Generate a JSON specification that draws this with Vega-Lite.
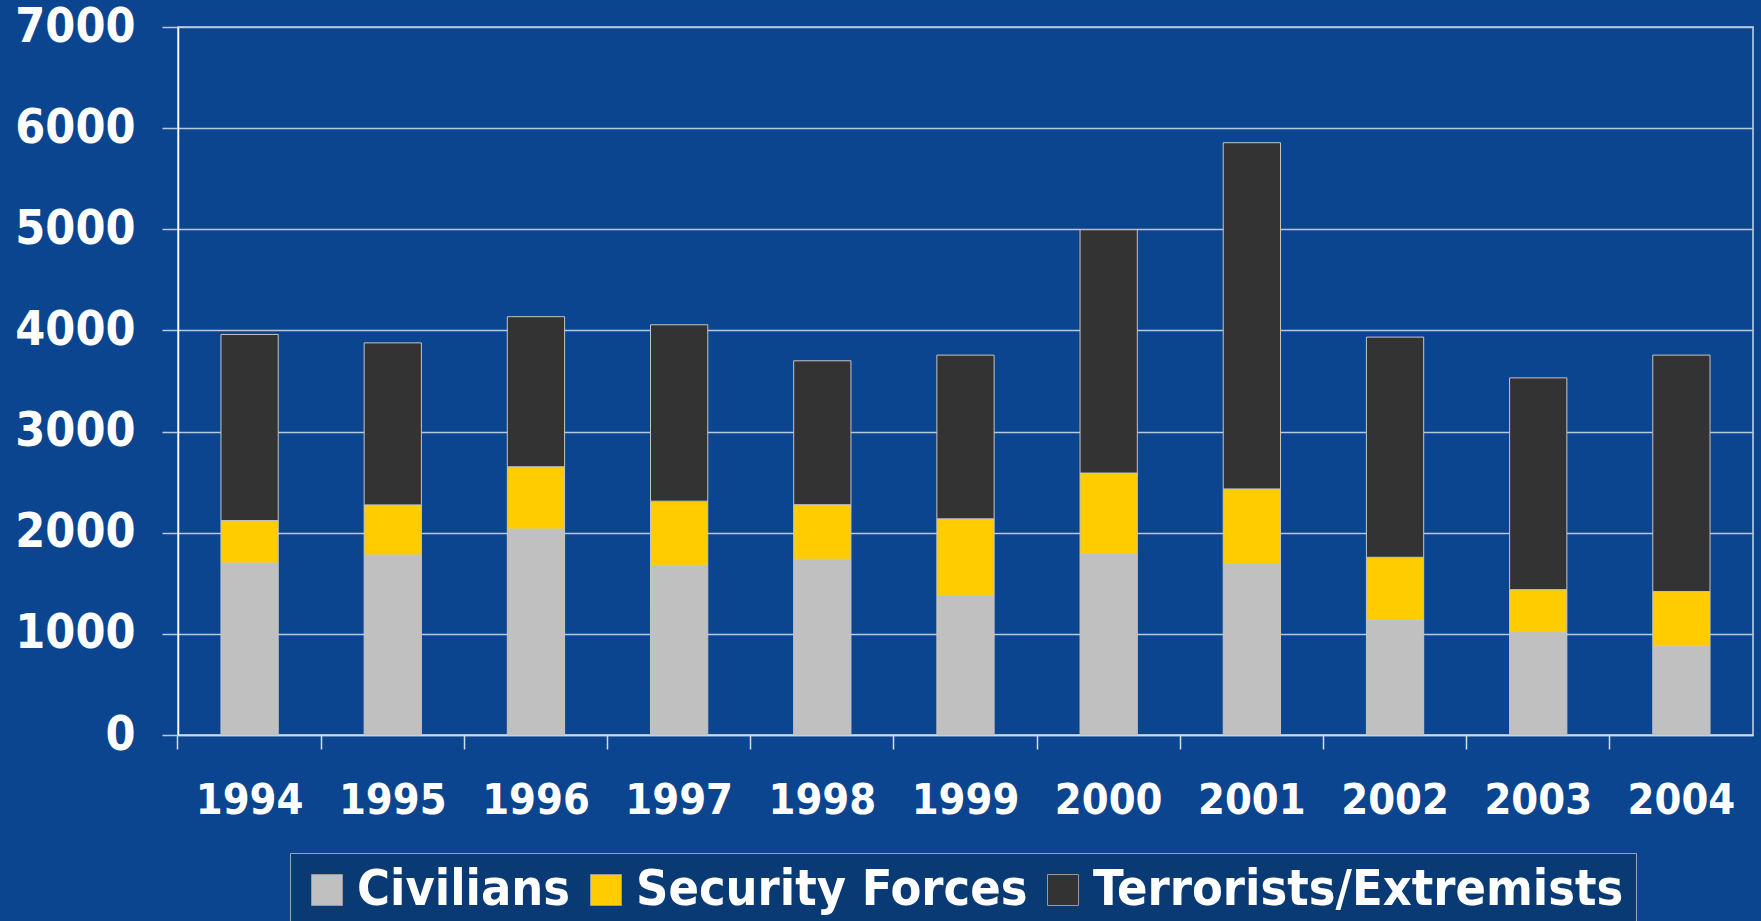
{
  "$schema": "https://vega.github.io/schema/vega-lite/v6.json",
  "width": 1575,
  "height": 708,
  "autosize": {"type": "none"},
  "padding": {"left": 178, "top": 27, "right": 8, "bottom": 186},
  "background": "#0b4590",
  "view": {"stroke": "#c8d6ea", "strokeWidth": 1.5},
  "data": {
    "values": [
      {"year": "1994", "category": "Civilians", "value": 1700},
      {"year": "1994", "category": "Security Forces", "value": 420},
      {"year": "1994", "category": "Terrorists/Extremists", "value": 1840},
      {"year": "1995", "category": "Civilians", "value": 1780},
      {"year": "1995", "category": "Security Forces", "value": 495},
      {"year": "1995", "category": "Terrorists/Extremists", "value": 1602},
      {"year": "1996", "category": "Civilians", "value": 2036},
      {"year": "1996", "category": "Security Forces", "value": 616},
      {"year": "1996", "category": "Terrorists/Extremists", "value": 1484},
      {"year": "1997", "category": "Civilians", "value": 1677},
      {"year": "1997", "category": "Security Forces", "value": 635},
      {"year": "1997", "category": "Terrorists/Extremists", "value": 1744},
      {"year": "1998", "category": "Civilians", "value": 1737},
      {"year": "1998", "category": "Security Forces", "value": 540},
      {"year": "1998", "category": "Terrorists/Extremists", "value": 1423},
      {"year": "1999", "category": "Civilians", "value": 1380},
      {"year": "1999", "category": "Security Forces", "value": 757},
      {"year": "1999", "category": "Terrorists/Extremists", "value": 1619},
      {"year": "2000", "category": "Civilians", "value": 1793},
      {"year": "2000", "category": "Security Forces", "value": 797},
      {"year": "2000", "category": "Terrorists/Extremists", "value": 2405},
      {"year": "2001", "category": "Civilians", "value": 1693},
      {"year": "2001", "category": "Security Forces", "value": 740},
      {"year": "2001", "category": "Terrorists/Extremists", "value": 3423},
      {"year": "2002", "category": "Civilians", "value": 1132},
      {"year": "2002", "category": "Security Forces", "value": 625},
      {"year": "2002", "category": "Terrorists/Extremists", "value": 2177},
      {"year": "2003", "category": "Civilians", "value": 1016},
      {"year": "2003", "category": "Security Forces", "value": 421},
      {"year": "2003", "category": "Terrorists/Extremists", "value": 2094},
      {"year": "2004", "category": "Civilians", "value": 876},
      {"year": "2004", "category": "Security Forces", "value": 542},
      {"year": "2004", "category": "Terrorists/Extremists", "value": 2338}
    ]
  },
  "mark": {"type": "bar", "stroke": "#c4c4c4", "strokeWidth": 1},
  "encoding": {
    "x": {
      "field": "year",
      "type": "ordinal",
      "scale": {"paddingInner": 0.6, "paddingOuter": 0.3},
      "axis": {
        "title": null,
        "labelAngle": 0,
        "labelFont": "DejaVu Sans Condensed, DejaVu Sans",
        "labelFontWeight": "bold",
        "labelFontSize": 43,
        "labelColor": "#ffffff",
        "labelPadding": 30,
        "bandPosition": -0.75,
        "tickSize": 14,
        "tickColor": "#d0dcec",
        "tickWidth": 1.5,
        "domainColor": "#d0dcec",
        "domainWidth": 1.5,
        "grid": false
      }
    },
    "y": {
      "field": "value",
      "type": "quantitative",
      "stack": "zero",
      "scale": {"domain": [0, 7000], "nice": false},
      "axis": {
        "title": null,
        "values": [0, 1000, 2000, 3000, 4000, 5000, 6000, 7000],
        "format": "d",
        "labelFont": "DejaVu Sans Condensed, DejaVu Sans",
        "labelFontWeight": "bold",
        "labelFontSize": 48,
        "labelColor": "#ffffff",
        "labelPadding": 27,
        "tickSize": 16,
        "tickColor": "#b8c8e0",
        "tickWidth": 1.5,
        "domainColor": "#ffffff",
        "domainWidth": 1.5,
        "grid": true,
        "gridColor": "#b8c8e0",
        "gridWidth": 1.5
      }
    },
    "color": {
      "field": "category",
      "type": "nominal",
      "scale": {
        "domain": ["Civilians", "Security Forces", "Terrorists/Extremists"],
        "range": ["#c0c0c0", "#ffcc00", "#333333"]
      },
      "legend": {
        "title": null,
        "orient": "none",
        "direction": "horizontal",
        "legendX": 112,
        "legendY": 826,
        "padding": 12,
        "fillColor": "#0a3a74",
        "strokeColor": "#8ea6c8",
        "symbolType": "square",
        "symbolSize": 961,
        "symbolStrokeColor": "#9a9a9a",
        "symbolStrokeWidth": 1,
        "symbolOpacity": 1,
        "labelFont": "DejaVu Sans Condensed, DejaVu Sans",
        "labelFontWeight": "bold",
        "labelFontSize": 50,
        "labelColor": "#ffffff",
        "labelOffset": 5,
        "labelLimit": 800,
        "columnPadding": 10
      }
    },
    "order": {"field": "category", "sort": "ascending"}
  }
}
